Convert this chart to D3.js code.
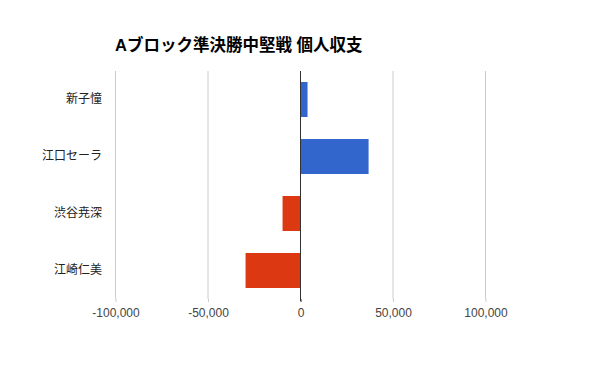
<!DOCTYPE html>
<html><head><meta charset="utf-8">
<script src="https://cdn.jsdelivr.net/npm/d3@7"></script>
<style>body{margin:0;background:#fff;} svg{display:block;}</style>
</head><body>
<svg id="c" width="600" height="371"></svg>
<script>
const title = "Aブロック準決勝中堅戦 個人収支";
const categories = ["新子憧", "江口セーラ", "渋谷尭深", "江崎仁美"];
const values = [3800, 36800, -9700, -29700];
const tickValues = [-100000, -50000, 0, 50000, 100000];

const svg = d3.select("#c");
const font = "Arial, 'Liberation Sans', 'Noto Sans CJK JP', sans-serif";
svg.append("rect").attr("width",600).attr("height",371).attr("fill","#fff");

const x = d3.scaleLinear().domain([-100000, 100000]).range([115.5, 485.5]);
const y = d3.scaleBand().domain(categories).range([71, 299]).paddingInner(0.386).paddingOuter(0.193);

// gridlines
svg.append("g").selectAll("line").data(tickValues.filter(d=>d!==0)).join("line")
  .attr("x1", d=>x(d)).attr("x2", d=>x(d)).attr("y1", 71).attr("y2", 299)
  .attr("stroke", "#cccccc").attr("stroke-width", 1);

// bars
svg.append("g").selectAll("rect").data(values).join("rect")
  .attr("x", d=>Math.min(x(0), x(d)) + (d>0?0.5:0))
  .attr("width", d=>Math.abs(x(d)-x(0)) - 0.5)
  .attr("y", (d,i)=>y(categories[i]))
  .attr("height", y.bandwidth())
  .attr("fill", d=> d>=0 ? "#3366cc" : "#dc3912");

// zero line
svg.append("line").attr("x1", x(0)).attr("x2", x(0)).attr("y1", 71).attr("y2", 301)
  .attr("stroke", "#333333").attr("stroke-width", 1);

// x axis
const fmt = d3.format(",");
const xAxis = d3.axisBottom(x).tickValues(tickValues).tickSize(3).tickFormat(d => fmt(d).replace("\u2212", "-"));
const gx = svg.append("g").attr("transform","translate(0,299)").call(xAxis);
gx.select(".domain").remove();
gx.selectAll(".tick line").attr("stroke", d=>d===0?"#333":"#cccccc");
gx.selectAll(".tick text").attr("y", 9).attr("font-family", font).attr("font-size", 12).attr("fill", "#444444");

// y axis labels
const yAxis = d3.axisLeft(y).tickSize(0).tickPadding(0);
const gy = svg.append("g").attr("transform","translate(102,0)").call(yAxis);
gy.select(".domain").remove();
gy.selectAll(".tick text").attr("font-family", font).attr("font-size", 12).attr("fill", "#222222");

// title
svg.append("text").attr("x", 115).attr("y", 51).text(title)
  .attr("font-family", font).attr("font-size", 16.5).attr("font-weight", "bold").attr("fill", "#000");
</script>
</body></html>
